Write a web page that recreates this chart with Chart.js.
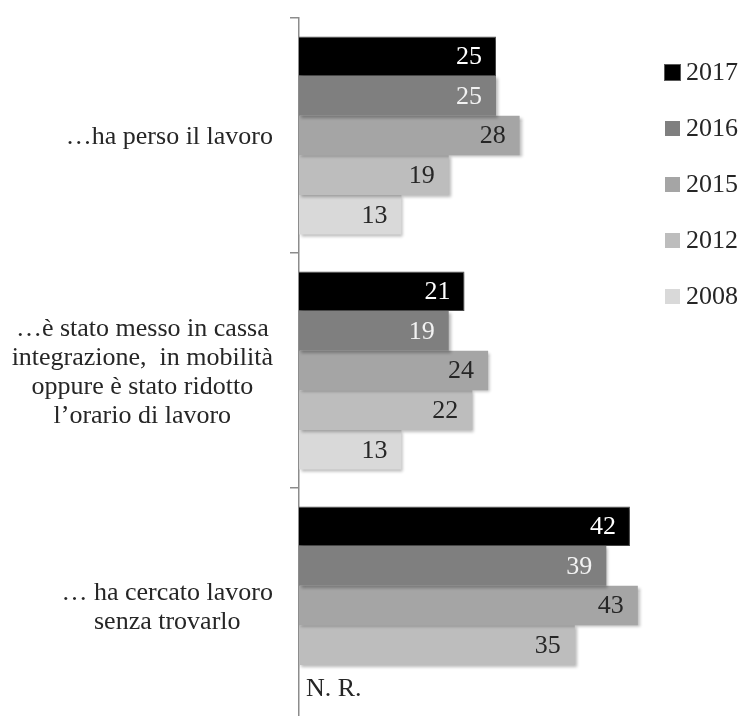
<!DOCTYPE html>
<html>
<head>
<meta charset="utf-8">
<script src="https://cdn.jsdelivr.net/npm/chart.js@4"></script>
<style>
  html, body { margin: 0; padding: 0; background: #fff; overflow: hidden; }
  #wrap { width: 739px; height: 730px; }
</style>
</head>
<body>
<div id="wrap"><canvas id="lavoro"></canvas></div>
<script>
// categorie (asse verticale)
const categories = [
  ['…ha perso il lavoro'],
  ['…è stato messo in cassa', 'integrazione,  in mobilità', 'oppure è stato ridotto', 'l’orario di lavoro'],
  ['… ha cercato lavoro', 'senza trovarlo']
];
const years = ['2017', '2016', '2015', '2012', '2008'];
const v2017 = [25, 21, 42];
const v2016 = [25, 19, 39];
const v2015 = [28, 24, 43];
const v2012 = [19, 22, 35];
const v2008 = [13, 13, null];   // 2008: N. R. per la terza voce
const xTicks = [0, 50];

const series = [v2017, v2016, v2015, v2012, v2008];
const colors = ['#000000', '#7f7f7f', '#a5a5a5', '#bdbdbd', '#d9d9d9'];
const labelColors = ['#ffffff', '#f2f2f2', '#262626', '#262626', '#262626'];
const FONT = '"Liberation Serif", "Times New Roman", serif';

// nomi delle categorie, righe centrate, blocco allineato a destra
const catLabels = {
  id: 'catLabels',
  afterDraw(chart) {
    const ctx = chart.ctx, ys = chart.scales.y;
    const right = ys.right - 26;
    ctx.save();
    ctx.font = '26px ' + FONT;
    ctx.fillStyle = '#262626';
    ctx.textAlign = 'center';
    ctx.textBaseline = 'middle';
    categories.forEach((lines, i) => {
      const widest = Math.max(...lines.map(l => ctx.measureText(l).width));
      const cx = right - widest / 2;
      const cy = ys.getPixelForValue(i) + 2;
      lines.forEach((l, k) => ctx.fillText(l, cx, cy + (k - (lines.length - 1) / 2) * 29));
    });
    ctx.restore();
  }
};

// valori dentro le barre + "N. R."
const barValues = {
  id: 'barValues',
  afterDatasetsDraw(chart) {
    const ctx = chart.ctx;
    ctx.save();
    ctx.font = '26px ' + FONT;
    ctx.textBaseline = 'middle';
    chart.data.datasets.forEach((ds, i) => {
      const meta = chart.getDatasetMeta(i);
      ctx.fillStyle = labelColors[i];
      ctx.textAlign = 'right';
      meta.data.forEach((el, j) => {
        if (ds.data[j] == null) return;
        ctx.fillText(String(ds.data[j]), el.x - 14, el.y + 1);
      });
    });
    const prev = chart.getDatasetMeta(3).data[2];
    ctx.fillStyle = '#262626';
    ctx.textAlign = 'left';
    ctx.fillText('N. R.', chart.scales.x.left + 7, prev.y + prev.height + 4);
    ctx.restore();
  }
};

// leggenda verticale a destra
const sideLegend = {
  id: 'sideLegend',
  afterDraw(chart) {
    const ctx = chart.ctx;
    ctx.save();
    ctx.font = '26px ' + FONT;
    ctx.textBaseline = 'middle';
    ctx.textAlign = 'left';
    years.forEach((y, i) => {
      const cy = 72 + i * 56;
      ctx.fillStyle = colors[i];
      ctx.fillRect(665, cy - 7, 15, 15);
      if (i === 0) {
        ctx.strokeStyle = '#595959';
        ctx.lineWidth = 1;
        ctx.strokeRect(664.5, cy - 7.5, 16, 16);
      }
      ctx.fillStyle = '#262626';
      ctx.fillText(y, 686, cy + 1);
    });
    ctx.restore();
  }
};

// ombra leggera sotto le barre
const barShadow = {
  id: 'barShadow',
  beforeDatasetsDraw(chart) {
    const ctx = chart.ctx;
    ctx.save();
    ctx.shadowColor = 'rgba(0,0,0,0.28)';
    ctx.shadowBlur = 3;
    ctx.shadowOffsetX = 2;
    ctx.shadowOffsetY = 2;
  },
  afterDatasetsDraw(chart) {
    chart.ctx.restore();
  }
};

function lavoroChart() {
  const ctx = document.getElementById('lavoro').getContext('2d');
  const chart = new Chart(ctx, {
    type: 'bar',
    data: {
      labels: categories,
      datasets: years.map((y, i) => ({
        label: y,
        data: series[i],
        backgroundColor: colors[i],
        borderColor: i === 0 ? '#595959' : colors[i],
        borderWidth: i === 0 ? 1 : 0,
        borderSkipped: 'start',
        categoryPercentage: 0.843,
        barPercentage: 1
      }))
    },
    options: {
      indexAxis: 'y',
      responsive: true,
      maintainAspectRatio: false,
      animation: false,
      devicePixelRatio: 1,
      layout: { padding: { top: 18, right: 46, bottom: 7, left: 0 } },
      plugins: { legend: { display: false }, tooltip: { enabled: false } },
      scales: {
        x: {
          display: false,
          min: xTicks[0],
          max: xTicks[1]
        },
        y: {
          offset: true,
          grid: { offset: true, drawOnChartArea: false, drawTicks: true, tickLength: 9, color: '#8c8c8c', lineWidth: 1.5 },
          border: { display: true, color: '#8c8c8c', width: 1.5 },
          ticks: { display: false },
          afterFit(scale) { scale.width = 299; }
        }
      }
    },
    plugins: [barShadow, barValues, catLabels, sideLegend]
  });
}
lavoroChart();
</script>
</body>
</html>
